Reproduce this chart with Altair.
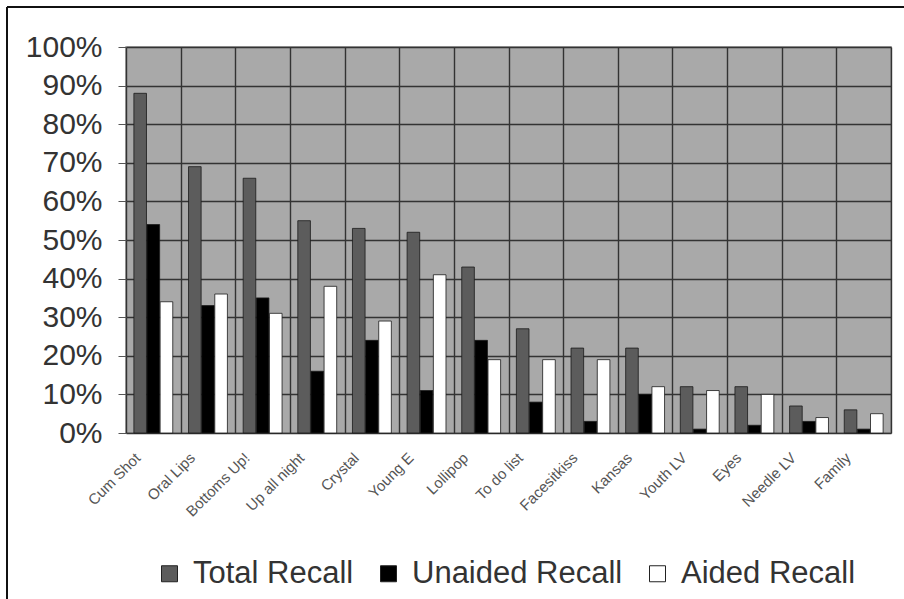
import altair as alt
import pandas as pd

# Recall scores per campaign (percent)
categories = ["Cum Shot", "Oral Lips", "Bottoms Up!", "Up all night", "Crystal",
              "Young E", "Lollipop", "To do list", "Facesitkiss", "Kansas",
              "Youth LV", "Eyes", "Needle LV", "Family"]
total_recall = [88, 69, 66, 55, 53, 52, 43, 27, 22, 22, 12, 12, 7, 6]
unaided_recall = [54, 33, 35, 16, 24, 11, 24, 8, 3, 10, 1, 2, 3, 1]
aided_recall = [34, 36, 31, 38, 29, 41, 19, 19, 19, 12, 11, 10, 4, 5]
series = ["Total Recall", "Unaided Recall", "Aided Recall"]
y_ticks = list(range(0, 101, 10))

rows = []
for name, vals in zip(series, [total_recall, unaided_recall, aided_recall]):
    for cat, v in zip(categories, vals):
        rows.append({"category": cat, "series": name, "value": v})
df = pd.DataFrame(rows)

W, H = 765, 386
PAD_L, PAD_T, PAD_R, PAD_B = 126, 47, 13, 166
FONT = "Liberation Sans"

bars = alt.Chart(df).mark_bar(stroke="#1a1a1a", strokeWidth=0.8).encode(
    x=alt.X("category:N", sort=categories,
            scale=alt.Scale(paddingInner=0, paddingOuter=0),
            axis=alt.Axis(title=None, labelAngle=-45, labelAlign="right",
                          labelBaseline="middle", tickBand="extent",
                          grid=True, gridColor="#333333", gridWidth=1.4,
                          ticks=False, domain=False, labelFont=FONT,
                          labelFontSize=15, labelColor="#555555",
                          labelPadding=22, labelOffset=-16)),
    xOffset=alt.XOffset("series:N", sort=series,
                        scale=alt.Scale(paddingOuter=0.6, paddingInner=0.04)),
    y=alt.Y("value:Q", scale=alt.Scale(domain=[0, 100], nice=False),
            axis=alt.Axis(title=None, values=y_ticks,
                          labelExpr="datum.value + '%'", grid=True,
                          gridColor="#333333", gridWidth=1.4, ticks=True,
                          tickSize=8, tickColor="#555555", domain=False,
                          labelFont=FONT, labelFontSize=30,
                          labelColor="#333333", labelPadding=16)),
    color=alt.Color("series:N", sort=series,
                    scale=alt.Scale(domain=series,
                                    range=["#5c5c5c", "#000000", "#ffffff"]),
                    legend=alt.Legend(title=None, orient="none",
                                      direction="horizontal",
                                      legendX=28, legendY=511,
                                      symbolType="square", symbolSize=256,
                                      symbolStrokeColor="#222222",
                                      symbolStrokeWidth=1, symbolOpacity=1,
                                      labelFont=FONT, labelFontSize=31,
                                      labelColor="#333333", labelOffset=8,
                                      labelLimit=0, columnPadding=19,
                                      padding=0)),
)

frame = alt.Chart(alt.Data(values=[{}])).mark_rule(color="#111111", strokeWidth=2)
left_edge = frame.encode(x=alt.value(-PAD_L + 7), y=alt.value(-PAD_T + 7),
                         y2=alt.value(H + PAD_B))
top_edge = frame.encode(x=alt.value(-PAD_L + 7), x2=alt.value(W + PAD_R),
                        y=alt.value(-PAD_T + 7))

chart = alt.layer(bars, left_edge, top_edge).properties(
    width=W, height=H,
    autosize=alt.AutoSizeParams(type="none"),
    padding={"left": PAD_L, "top": PAD_T, "right": PAD_R, "bottom": PAD_B},
    background="white",
).configure_view(fill="#a9a9a9", stroke="#8a8a8a", strokeWidth=1.5)

chart.save("out.html", embed_options={"renderer": "svg", "actions": False})
